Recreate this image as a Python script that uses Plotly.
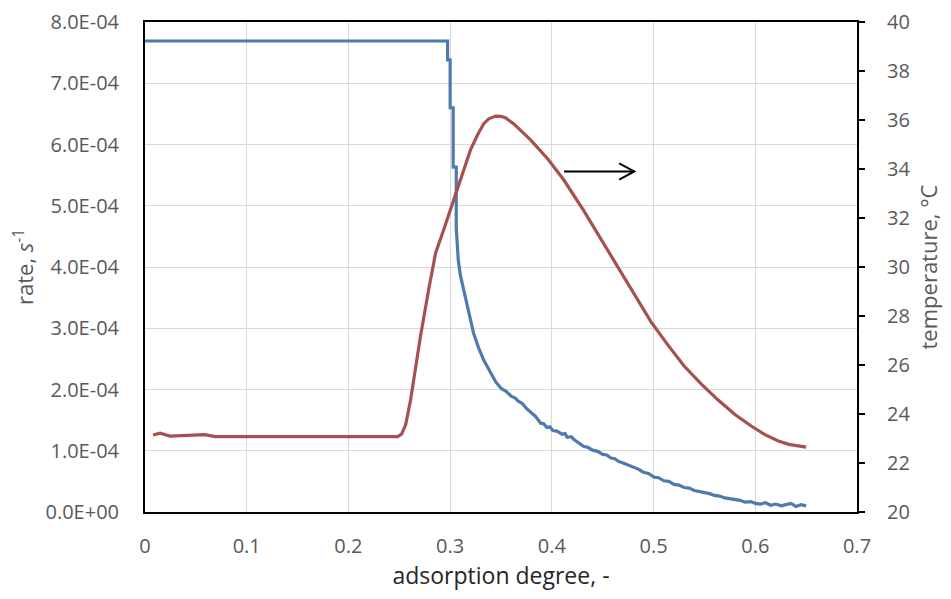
import plotly.graph_objects as go

# ---- data ----
x_ticks = [0, 0.1, 0.2, 0.3, 0.4, 0.5, 0.6, 0.7]
x_ticktext = ["0", "0.1", "0.2", "0.3", "0.4", "0.5", "0.6", "0.7"]
rate_ticks = [0, 1e-4, 2e-4, 3e-4, 4e-4, 5e-4, 6e-4, 7e-4, 8e-4]
rate_ticktext = ["0.0E+00", "1.0E-04", "2.0E-04", "3.0E-04", "4.0E-04",
                 "5.0E-04", "6.0E-04", "7.0E-04", "8.0E-04"]
temp_ticks = [20, 22, 24, 26, 28, 30, 32, 34, 36, 38, 40]

# rate curve (left axis)
rate_x = [0.0, 0.2975, 0.2975, 0.300, 0.300, 0.303, 0.303, 0.306, 0.306, 0.308,
          0.310, 0.3133, 0.317, 0.323, 0.328, 0.333, 0.337, 0.340, 0.345, 0.350,
          0.355, 0.360, 0.364, 0.367, 0.371, 0.375, 0.380, 0.384, 0.389, 0.392,
          0.395, 0.398, 0.401, 0.405, 0.410, 0.413, 0.415, 0.419, 0.422, 0.426,
          0.4315, 0.435, 0.440, 0.445, 0.450, 0.454, 0.458, 0.462, 0.465, 0.470,
          0.475, 0.480, 0.485, 0.490, 0.495, 0.5005, 0.505, 0.510, 0.515, 0.520,
          0.525, 0.530, 0.535, 0.540, 0.547, 0.552, 0.555, 0.560, 0.565, 0.570,
          0.575, 0.580, 0.585, 0.590, 0.596, 0.600, 0.605, 0.610, 0.615, 0.620,
          0.6256, 0.630, 0.635, 0.640, 0.645, 0.650]
rate_y = [7.69e-4, 7.69e-4, 7.38e-4, 7.38e-4, 6.60e-4, 6.60e-4, 5.63e-4, 5.63e-4, 4.64e-4, 4.11e-4,
          3.87e-4, 3.62e-4, 3.38e-4, 2.92e-4, 2.68e-4, 2.48e-4, 2.36e-4, 2.27e-4, 2.12e-4, 2.02e-4,
          1.97e-4, 1.89e-4, 1.86e-4, 1.81e-4, 1.77e-4, 1.69e-4, 1.62e-4, 1.56e-4, 1.45e-4, 1.44e-4,
          1.38e-4, 1.39e-4, 1.33e-4, 1.32e-4, 1.27e-4, 1.28e-4, 1.22e-4, 1.23e-4, 1.18e-4, 1.14e-4,
          1.07e-4, 1.06e-4, 1.01e-4, 0.99e-4, 0.94e-4, 0.93e-4, 0.88e-4, 0.87e-4, 0.83e-4, 0.80e-4,
          0.77e-4, 0.73e-4, 0.70e-4, 0.65e-4, 0.63e-4, 0.57e-4, 0.56e-4, 0.51e-4, 0.50e-4, 0.45e-4,
          0.44e-4, 0.40e-4, 0.39e-4, 0.35e-4, 0.33e-4, 0.31e-4, 0.30e-4, 0.27e-4, 0.26e-4, 0.23e-4,
          0.22e-4, 0.20e-4, 0.19e-4, 0.16e-4, 0.17e-4, 0.14e-4, 0.13e-4, 0.15e-4, 0.11e-4, 0.13e-4,
          0.10e-4, 0.12e-4, 0.14e-4, 0.09e-4, 0.12e-4, 0.10e-4]

# temperature curve (right axis)
temp_x = [0.008, 0.0148, 0.0246, 0.0443, 0.059, 0.069, 0.1, 0.15, 0.2, 0.2483,
          0.2522, 0.2562, 0.2611, 0.2709, 0.2788, 0.2857, 0.2936, 0.3034, 0.312, 0.320,
          0.327, 0.333, 0.338, 0.3448, 0.350, 0.3547, 0.3626, 0.370, 0.3793, 0.396,
          0.4118, 0.4315, 0.448, 0.465, 0.481, 0.4975, 0.514, 0.530, 0.547, 0.5635,
          0.580, 0.596, 0.609, 0.6227, 0.633, 0.6433, 0.650]
temp_y = [23.14, 23.22, 23.10, 23.12, 23.16, 23.08, 23.08, 23.08, 23.08, 23.08,
          23.18, 23.55, 24.57, 27.18, 29.06, 30.57, 31.51, 32.73, 33.85, 34.78,
          35.40, 35.85, 36.05, 36.16, 36.15, 36.08, 35.84, 35.55, 35.18, 34.41,
          33.55, 32.29, 31.15, 29.96, 28.85, 27.76, 26.82, 25.96, 25.22, 24.57,
          23.98, 23.51, 23.17, 22.90, 22.76, 22.69, 22.65]

# arrow (points toward the right axis)
arrow_x = [0.412, 0.481]
arrow_y = 33.9

BLUE = "#4D7BAE"
RED = "#A5514F"
GRID = "#D9D9D9"
TICKC = "#595959"
FONT = "Open Sans, Noto Sans, sans-serif"

fig = go.Figure()
fig.add_trace(go.Scatter(x=rate_x, y=rate_y, mode="lines",
                         line=dict(color=BLUE, width=3.2), yaxis="y",
                         showlegend=False, hoverinfo="skip"))
fig.add_trace(go.Scatter(x=temp_x, y=temp_y, mode="lines",
                         line=dict(color=RED, width=3.2),
                         yaxis="y2", showlegend=False, hoverinfo="skip"))

# arrow drawn as shapes in data coordinates
hx, hy = 0.0148, 0.33
fig.add_shape(type="line", xref="x", yref="y2",
              x0=arrow_x[0], x1=arrow_x[1], y0=arrow_y, y1=arrow_y,
              line=dict(color="black", width=2))
fig.add_shape(type="path", xref="x", yref="y2",
              path=f"M {arrow_x[1]-hx} {arrow_y+hy} L {arrow_x[1]} {arrow_y} L {arrow_x[1]-hx} {arrow_y-hy}",
              line=dict(color="black", width=2))

# the page body adds an 8px margin around the figure
fig.update_layout(
    width=935, height=583,
    margin=dict(l=137, r=86, t=14, b=79),
    paper_bgcolor="white", plot_bgcolor="white",
    font=dict(family=FONT, color=TICKC, size=20),
    xaxis=dict(range=[0, 0.7], tickvals=x_ticks, ticktext=x_ticktext,
               showgrid=True, gridcolor=GRID, gridwidth=1,
               showline=True, linecolor="black", linewidth=2, mirror=True,
               ticks="", ticklabelstandoff=15, zeroline=False, automargin=False,
               tickfont=dict(size=20, color=TICKC),
               title=dict(text="adsorption degree, -", standoff=10,
                          font=dict(size=23, color="#262626"))),
    yaxis=dict(range=[0, 8e-4], tickvals=rate_ticks, ticktext=rate_ticktext,
               showgrid=True, gridcolor=GRID, gridwidth=1,
               showline=True, linecolor="black", linewidth=2, mirror=False,
               ticks="", ticklabelstandoff=20, zeroline=False, automargin=False,
               tickfont=dict(size=20, color=TICKC),
               title=dict(text="rate, <i>s</i><sup>-1</sup>", standoff=20,
                          font=dict(size=22, color=TICKC))),
    yaxis2=dict(range=[20, 40], tickvals=temp_ticks, overlaying="y", side="right",
                showgrid=False, zeroline=False, automargin=False,
                showline=True, linecolor="black", linewidth=2,
                ticks="outside", ticklen=6, tickwidth=2, tickcolor="black",
                ticklabelstandoff=18,
                tickfont=dict(size=20, color=TICKC),
                title=dict(text="temperature, °C", standoff=20,
                           font=dict(size=22, color=TICKC))),
)

fig.write_html("out.html")
